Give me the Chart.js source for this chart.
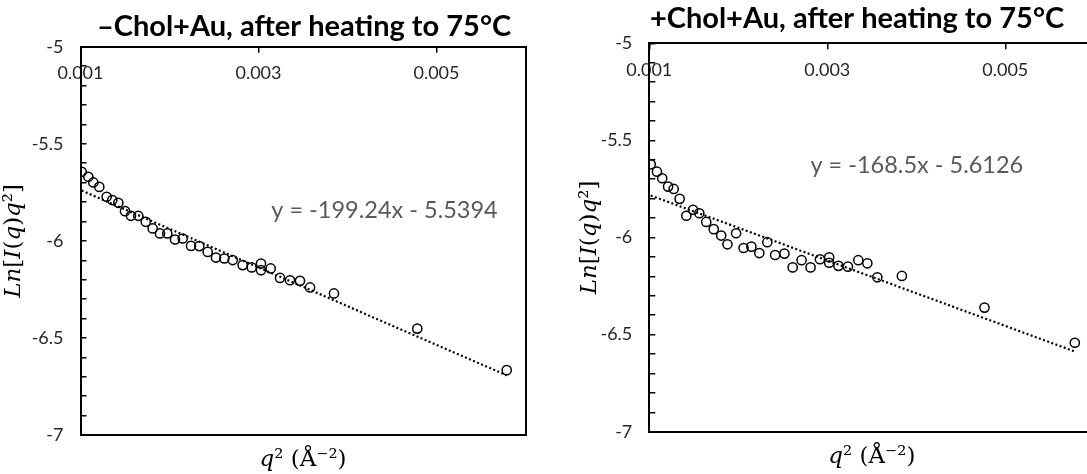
<!DOCTYPE html>
<html lang="en">
<head>
    <meta charset="UTF-8">
    <title>Ln[I(q)q²] vs q² after heating to 75°C</title>
    <style>
        html, body {
            margin: 0;
            padding: 0;
            background: #fff;
        }

        body {
            position: relative;
            width: 1087px;
            height: 474px;
            overflow: hidden;
        }

        .panel {
            position: absolute;
            top: 0;
            height: 474px;
        }

        #leftPanel {
            left: 0;
            width: 608px;
        }

        #rightPanel {
            left: 568px;
            width: 578px;
        }
    </style>
    <script src="https://cdn.jsdelivr.net/npm/chart.js"></script>
</head>
<body>
    <div id="leftPanel" class="panel"><canvas id="leftChart"></canvas></div>
    <div id="rightPanel" class="panel"><canvas id="rightChart"></canvas></div>
    <script>
        // -Chol+Au: q^2 (1/A^2) and Ln[I(q)q^2]
        const noCholQ2 = [0.001013, 0.001088, 0.001144, 0.001211, 0.001294, 0.001357, 0.001425, 0.0015, 0.001567, 0.001649,
            0.001733, 0.001811, 0.001893, 0.001975, 0.002062, 0.002148, 0.002242, 0.002335, 0.002429, 0.002522,
            0.002616, 0.00271, 0.002822, 0.002924, 0.003028, 0.003028, 0.003137, 0.003242, 0.003354, 0.003466,
            0.003579, 0.003848, 0.004784, 0.005789];
        const noCholLn = [-5.644, -5.670, -5.699, -5.722, -5.773, -5.790, -5.804, -5.847, -5.871, -5.871,
            -5.902, -5.936, -5.962, -5.962, -5.993, -5.988, -6.026, -6.027, -6.057, -6.086,
            -6.091, -6.099, -6.125, -6.137, -6.117, -6.151, -6.142, -6.191, -6.203, -6.206,
            -6.240, -6.271, -6.452, -6.666];
        // dotted linear fit, end points
        const noCholFitQ2 = [0.001013, 0.005789];
        const noCholFitLn = [-5.741, -6.693];

        // +Chol+Au
        const cholQ2 = [0.001016, 0.001086, 0.001145, 0.001211, 0.001274, 0.001341, 0.001416, 0.001491, 0.001562, 0.00164,
            0.001724, 0.001808, 0.001878, 0.001975, 0.002059, 0.002147, 0.002236, 0.002326, 0.002414, 0.002518,
            0.002611, 0.002711, 0.002812, 0.002917, 0.003021, 0.003021, 0.003125, 0.003232, 0.003348, 0.00345,
            0.003562, 0.003838, 0.004766, 0.005781];
        const cholLn = [-5.623, -5.661, -5.695, -5.738, -5.750, -5.801, -5.888, -5.857, -5.875, -5.920,
            -5.957, -5.990, -6.035, -5.978, -6.054, -6.047, -6.080, -6.024, -6.090, -6.083,
            -6.154, -6.117, -6.154, -6.112, -6.102, -6.130, -6.146, -6.150, -6.117, -6.133,
            -6.205, -6.198, -6.361, -6.542];
        const cholFitQ2 = [0.001016, 0.005781];
        const cholFitLn = [-5.784, -6.587];

        // axis ticks
        const xTicks = [0.001, 0.003, 0.005];
        const yLabelTicks = [-5, -5.5, -6, -6.5, -7];

        const tickFont = {family: 'Lato, "Open Sans", sans-serif', size: 18};
        const tickColor = '#262626';

        // trendline equation, placed in data units
        const fitLabel = {
            id: 'fitLabel',
            afterDatasetsDraw(chart, args, opts) {
                const {ctx, scales} = chart;
                ctx.save();
                ctx.font = '23.5px Lato, "Open Sans", sans-serif';
                ctx.fillStyle = '#595959';
                ctx.textAlign = 'center';
                ctx.textBaseline = 'middle';
                ctx.fillText(opts.text, scales.x.getPixelForValue(opts.at[0]), scales.y.getPixelForValue(opts.at[1]));
                ctx.restore();
            }
        };

        function makeChart(canvasId, s) {
            const points = s.q2.map((v, i) => ({x: v, y: s.ln[i]}));
            const fit = s.fitQ2.map((v, i) => ({x: v, y: s.fitLn[i]}));

            return new Chart(document.getElementById(canvasId), {
                type: 'scatter',
                data: {
                    datasets: [{
                        data: fit,
                        showLine: true,
                        borderColor: '#000',
                        borderWidth: 2.2,
                        borderDash: [2, 2.4],
                        pointRadius: 0,
                        order: 0
                    }, {
                        data: points,
                        pointStyle: 'circle',
                        pointRadius: 4.6,
                        borderWidth: 1.5,
                        borderColor: '#000',
                        backgroundColor: 'rgba(0,0,0,0)',
                        order: 1
                    }]
                },
                options: {
                    responsive: true,
                    maintainAspectRatio: false,
                    animation: false,
                    devicePixelRatio: 1,
                    layout: {padding: 0},
                    plugins: {
                        legend: {display: false},
                        tooltip: {enabled: false},
                        title: {
                            display: true,
                            fullSize: true,
                            text: s.title,
                            color: '#000',
                            font: {family: 'Lato, "Open Sans", sans-serif', size: 29, weight: 'bold'},
                            padding: s.titlePad
                        },
                        fitLabel: {text: s.eq, at: s.eqAt}
                    },
                    scales: {
                        x: {
                            type: 'linear',
                            position: 'top',
                            min: 0.001,
                            max: 0.006,
                            afterBuildTicks: sc => { sc.ticks = xTicks.map(v => ({value: v})); },
                            afterFit: sc => { sc.height = 0; },
                            border: {display: true, color: '#000', width: 2},
                            grid: {display: true, drawOnChartArea: false, drawTicks: true, tickLength: -6, color: '#000', lineWidth: 1.5},
                            ticks: {mirror: true, padding: 16, color: tickColor, font: tickFont, maxRotation: 0, autoSkip: false,
                                callback: v => v.toFixed(3)}
                        },
                        xt: {
                            type: 'linear',
                            position: 'bottom',
                            min: 0.001,
                            max: 0.006,
                            afterFit: sc => { sc.height = s.bottomH; },
                            border: {display: true, color: '#000', width: 2},
                            grid: {display: false},
                            ticks: {display: false},
                            title: {display: true, text: '𝑞² (Å⁻²)', color: '#000',
                                font: {family: '"DejaVu Serif", serif', size: 23}, padding: {top: 0, bottom: s.xTitlePad}}
                        },
                        y: {
                            type: 'linear',
                            position: 'left',
                            min: -7,
                            max: -5,
                            afterFit: sc => { sc.width = s.yAxisW; },
                            border: {display: true, color: '#000', width: 2},
                            grid: {display: true, drawOnChartArea: false, drawTicks: true, tickLength: -6, color: '#000', lineWidth: 1.5},
                            ticks: {stepSize: 0.1, autoSkip: false, padding: 23, color: tickColor, font: tickFont,
                                callback: v => {
                                    const r = Math.round(v * 10) / 10;
                                    return yLabelTicks.includes(r) ? String(r) : '';
                                }},
                            title: {display: true, text: '𝐿𝑛[𝐼(𝑞)𝑞²]', color: '#000',
                                font: {family: '"DejaVu Serif", serif', size: 23}, padding: {top: s.yTitlePad, bottom: 0}}
                        },
                        yr: {
                            type: 'linear',
                            position: 'right',
                            min: -7,
                            max: -5,
                            afterFit: sc => { sc.width = s.rightW; },
                            border: {display: true, color: '#000', width: 2},
                            grid: {display: false},
                            ticks: {display: false}
                        }
                    }
                },
                plugins: [fitLabel]
            });
        }

        makeChart('leftChart', {
            q2: noCholQ2, ln: noCholLn, fitQ2: noCholFitQ2, fitLn: noCholFitLn,
            title: '–Chol+Au, after heating to 75°C',
            eq: 'y = -199.24x - 5.5394', eqAt: [0.004416, -5.842],
            titlePad: {top: 9.6, bottom: 2.3},
            yAxisW: 80.5, rightW: 82.5, bottomH: 39, xTitlePad: 0.2, yTitlePad: 0
        });

        makeChart('rightChart', {
            q2: cholQ2, ln: cholLn, fitQ2: cholFitQ2, fitLn: cholFitLn,
            title: '+Chol+Au, after heating to 75°C',
            eq: 'y = -168.5x - 5.6126', eqAt: [0.004006, -5.627],
            titlePad: {top: 1.6, bottom: 6.9},
            yAxisW: 81.3, rightW: 51.7, bottomH: 42.3, xTitlePad: 3.2, yTitlePad: 8.2
        });
    </script>
</body>
</html>
